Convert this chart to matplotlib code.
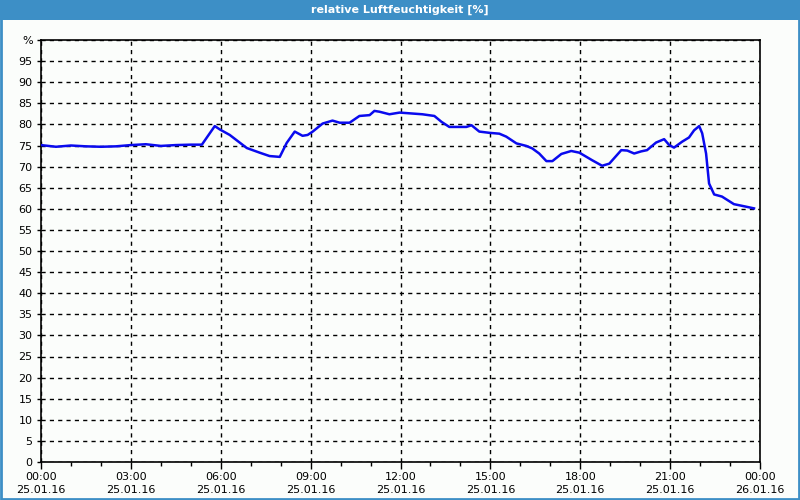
import numpy as np
import matplotlib
matplotlib.use('Agg')
import matplotlib.pyplot as plt
from matplotlib.patches import Rectangle

# ############################################################
# Daten (Stunden ab 25.01.16 00:00, rel. Feuchte in %)
hours = [0.0, 0.5, 1.0, 1.5, 2.0, 2.5, 3.0, 3.5, 4.0, 4.5, 5.0, 5.37,
         5.8, 5.97, 6.3, 6.87, 7.3, 7.63, 7.97, 8.2, 8.47, 8.73, 8.9,
         9.07, 9.4, 9.73, 9.97, 10.3, 10.63, 10.97, 11.13, 11.3, 11.63,
         11.97, 12.73, 13.13, 13.37, 13.63, 14.2, 14.37, 14.63, 14.97,
         15.3, 15.53, 15.87, 16.2, 16.4, 16.63, 16.87, 17.07, 17.37,
         17.7, 17.97, 18.4, 18.73, 18.97, 19.37, 19.57, 19.8, 20.03,
         20.23, 20.53, 20.8, 20.97, 21.13, 21.4, 21.63, 21.8, 21.97,
         22.07, 22.2, 22.3, 22.47, 22.73, 23.13, 23.47, 23.8]
humidity = [75.1, 74.7, 75.0, 74.8, 74.7, 74.8, 75.1, 75.3, 74.9, 75.1,
            75.2, 75.2, 79.6, 78.8, 77.5, 74.4, 73.3, 72.5, 72.3, 75.6,
            78.3, 77.3, 77.5, 78.3, 80.2, 80.9, 80.4, 80.4, 82.0, 82.2,
            83.2, 83.0, 82.4, 82.8, 82.4, 82.0, 80.6, 79.4, 79.4, 79.8,
            78.3, 78.0, 77.8, 77.1, 75.5, 74.9, 74.3, 73.1, 71.3, 71.3,
            73.0, 73.7, 73.3, 71.5, 70.2, 70.7, 73.9, 73.8, 73.1, 73.6,
            73.9, 75.7, 76.5, 75.1, 74.5, 75.9, 76.9, 78.6, 79.6, 77.9,
            73.1, 66.0, 63.4, 62.9, 61.1, 60.6, 60.1]

x_ticks = [0, 3, 6, 9, 12, 15, 18, 21, 24]
x_labels = ['00:00\n25.01.16', '03:00\n25.01.16', '06:00\n25.01.16',
            '09:00\n25.01.16', '12:00\n25.01.16', '15:00\n25.01.16',
            '18:00\n25.01.16', '21:00\n25.01.16', '00:00\n26.01.16']
y_ticks = list(range(0, 101, 5))
y_labels = [str(v) for v in range(0, 100, 5)] + ['%']

title = 'relative Luftfeuchtigkeit [%]'
frame_blue = '#3d8fc6'

# ############################################################
# Figur und Achsen
fig = plt.figure(figsize=(8, 5), dpi=100, facecolor='#fbfdfb')

# Titelleiste und Rahmen
fig.patches.append(Rectangle((0, 0.96), 1, 0.04, transform=fig.transFigure,
                             facecolor=frame_blue, edgecolor='none', zorder=0))
fig.patches.append(Rectangle((0.001, 0.002), 0.998, 0.996, transform=fig.transFigure,
                             facecolor='none', edgecolor=frame_blue, lw=2, zorder=0))
fig.text(0.5, 0.98, title, color='white', fontsize=8, fontweight='bold',
         ha='center', va='center')

ax = fig.add_axes([41/800, 38/500, 719/800, 422/500])
ax.set_facecolor('#fbfdfb')

ax.plot(hours, humidity, color='#0a0aee', lw=1.8, zorder=3)

ax.set(xlim=(0, 24), ylim=(0, 100))
ax.set_xticks(x_ticks)
ax.set_xticklabels(x_labels, fontsize=8, linespacing=1.45)
ax.set_xticks(range(25), minor=True)
ax.set_yticks(y_ticks)
ax.set_yticklabels(y_labels, fontsize=8)

ax.tick_params(axis='x', which='major', length=5, width=1, direction='out', pad=2)
ax.tick_params(axis='x', which='minor', length=3, width=1, direction='out')
ax.tick_params(axis='y', length=3, width=1, direction='out', pad=3)

ax.grid(True, which='major', color='black', linestyle=(0, (3, 3)), lw=1)
for s in ax.spines.values():
    s.set_linewidth(1.2)
    s.set_color('black')

fig.savefig('out.png', dpi=100, facecolor=fig.get_facecolor())
